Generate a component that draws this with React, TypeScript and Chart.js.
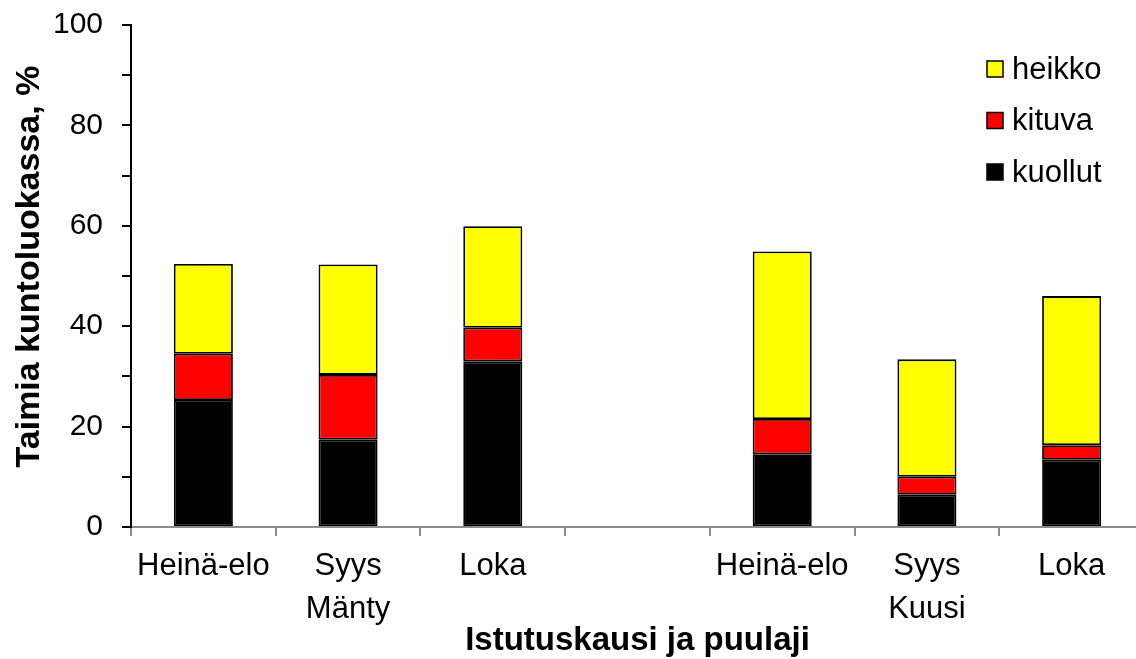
import React, { useEffect, useRef } from "react";
import { Chart, registerables } from "chart.js";

Chart.register(...registerables);

const FONT = '"Liberation Sans", Arial, sans-serif';

const categories: (string | string[])[] = [
  "Heinä-elo",
  ["Syys", "Mänty"],
  "Loka",
  "",
  "Heinä-elo",
  ["Syys", "Kuusi"],
  "Loka",
];

const seriesNames = ["kuollut", "kituva", "heikko"];
const seriesColors = ["#000000", "#FF0000", "#FFFF00"];

const kuollut = [25.3, 17.4, 33.0, null, 14.5, 6.4, 13.4];
const kituva = [9.2, 12.9, 6.7, null, 7.0, 3.6, 2.9];
const heikko = [17.9, 22.0, 20.2, null, 33.4, 23.4, 29.7];

const yMin = 0;
const yMax = 100;
const yStep = 10;
const yLabelEvery = 20;

const xTitle = "Istutuskausi ja puulaji";
const yTitle = "  Taimia kuntoluokassa, %";

const legendPlugin = {
  id: "customLegend",
  afterDraw(chart: any) {
    const ctx = chart.ctx;
    const area = chart.chartArea;
    ctx.save();
    const boxX = area.right - 157;
    const textX = boxX + 25;
    const order = [2, 1, 0];
    order.forEach((si, i) => {
      const cy = 69 + i * 51.5;
      ctx.fillStyle = seriesColors[si];
      ctx.fillRect(boxX, cy - 8, 16, 16);
      ctx.strokeStyle = "#000";
      ctx.lineWidth = 1.5;
      ctx.strokeRect(boxX, cy - 8, 16, 16);
      ctx.fillStyle = "#000";
      ctx.font = `31px ${FONT}`;
      ctx.textBaseline = "middle";
      ctx.textAlign = "left";
      ctx.fillText(seriesNames[si], textX, cy + 1);
    });
    ctx.restore();
  },
};

export default function App() {
  const ref = useRef<HTMLCanvasElement | null>(null);

  useEffect(() => {
    document.body.style.margin = "0";
    document.body.style.overflow = "hidden";
    const canvas = ref.current;
    if (!canvas) return;
    const dataArrays = [kuollut, kituva, heikko];
    const chart = new Chart(canvas, {
      type: "bar",
      data: {
        labels: categories,
        datasets: dataArrays.map((d, i) => ({
          label: seriesNames[i],
          data: d,
          backgroundColor: seriesColors[i],
          borderColor: "#000000",
          borderWidth: 1.8,
          borderSkipped: false,
          barPercentage: 0.408,
          categoryPercentage: 1.0,
        })),
      },
      options: {
        responsive: false,
        animation: false,
        devicePixelRatio: 1,
        layout: { padding: { top: 25, right: 6, left: 0, bottom: 0 } },
        plugins: {
          legend: { display: false },
          tooltip: { enabled: false },
        },
        scales: {
          x: {
            stacked: true,
            offset: true,
            grid: {
              display: true,
              drawOnChartArea: false,
              drawTicks: true,
              tickLength: 9,
              color: "#8c8c8c",
              lineWidth: 2,
              offset: true,
            },
            border: { display: true, color: "#8c8c8c", width: 2 },
            ticks: {
              color: "#000",
              font: { size: 31, family: FONT, lineHeight: 1.39 },
              padding: 9,
              maxRotation: 0,
              autoSkip: false,
            },
            title: {
              display: true,
              text: xTitle,
              color: "#000",
              font: { size: 33, weight: "bold", family: FONT, lineHeight: 1.2 },
              padding: { top: 0, bottom: -2 },
            },
            afterFit: (s: any) => {
              s.height = 132;
            },
          },
          y: {
            stacked: true,
            min: yMin,
            max: yMax,
            ticks: {
              stepSize: yStep,
              callback: (v: any) => (Number(v) % yLabelEvery === 0 ? String(v) : ""),
              color: "#000",
              font: { size: 30, family: FONT },
              padding: 19,
            },
            grid: {
              drawOnChartArea: false,
              drawTicks: true,
              tickLength: 9,
              color: "#000",
              lineWidth: 2,
            },
            border: { display: true, color: "#000", width: 2 },
            title: {
              display: true,
              text: yTitle,
              color: "#000",
              font: { size: 34, weight: "bold", family: FONT, lineHeight: 1.2 },
              padding: { top: 9, bottom: 0 },
            },
            afterFit: (s: any) => {
              s.width = 131;
              s.paddingTop = 0;
              s.paddingBottom = 0;
            },
          },
        },
      },
      plugins: [legendPlugin],
    });
    return () => chart.destroy();
  }, []);

  return (
    <div style={{ width: 1136, height: 659, overflow: "hidden", position: "relative" }}>
      <canvas ref={ref} width={1150} height={659} style={{ display: "block" }} />
    </div>
  );
}
